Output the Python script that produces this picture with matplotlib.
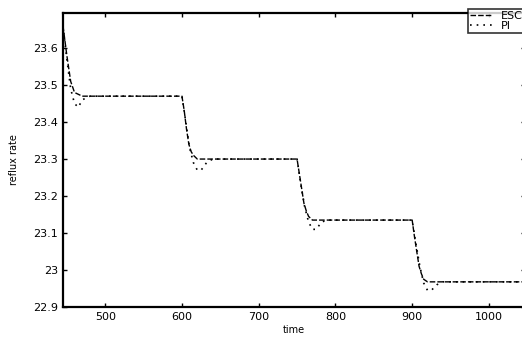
import matplotlib
matplotlib.use("Agg")
import matplotlib.pyplot as plt

esc_t = [445, 450, 455, 460, 470, 600, 603, 606, 609, 612, 615, 620,
         750, 753, 756, 759, 762, 765, 770,
         900, 903, 906, 909, 912, 915, 920, 1047]
esc_v = [23.66, 23.58, 23.51, 23.48, 23.47, 23.47, 23.43, 23.38, 23.34, 23.32, 23.31, 23.30,
         23.30, 23.26, 23.22, 23.18, 23.16, 23.145, 23.135,
         23.135, 23.09, 23.05, 23.01, 22.99, 22.975, 22.968, 22.968]

pi_t = [445, 450, 455, 460, 465, 470, 480,
        600, 605, 610, 615, 620, 625, 632, 640,
        750, 755, 760, 765, 770, 775, 782, 790,
        900, 905, 910, 915, 920, 925, 932, 940, 1047]
pi_v = [23.66, 23.57, 23.49, 23.45, 23.44, 23.46, 23.47,
        23.47, 23.40, 23.33, 23.29, 23.27, 23.27, 23.29, 23.30,
        23.30, 23.23, 23.17, 23.13, 23.11, 23.11, 23.13, 23.135,
        23.135, 23.07, 23.01, 22.965, 22.945, 22.945, 22.96, 22.968, 22.968]

y_ticks = [22.9, 23.0, 23.1, 23.2, 23.3, 23.4, 23.5, 23.6]
y_labels = ["22.9", "23", "23.1", "23.2", "23.3", "23.4", "23.5", "23.6"]
x_ticks = [500, 600, 700, 800, 900, 1000]

fig = plt.figure(figsize=(5.22, 3.38), dpi=100)
ax = fig.add_axes([0.1207, 0.0917, 0.885, 0.870])

ax.plot(esc_t, esc_v, color="black", linestyle=(0, (4, 1.5)), linewidth=1.0, label="ESC")
ax.plot(pi_t, pi_v, color="black", linestyle=(0, (1, 3)), linewidth=1.2, label="PI")

ax.set_xlim(445, 1047)
ax.set_ylim(22.9, 23.695)
ax.set_xticks(x_ticks)
ax.set_yticks(y_ticks)
ax.set_yticklabels(y_labels)
ax.tick_params(direction="in", top=True, right=True, labelsize=8, length=3, width=1)
for s in ax.spines.values():
    s.set_linewidth(1.6)

ax.set_xlabel("time", fontsize=7, labelpad=2)
ax.set_ylabel("reflux rate", fontsize=7, labelpad=10)

leg = ax.legend(loc="upper right", bbox_to_anchor=(1.0, 1.015), fontsize=8, frameon=True,
                fancybox=False, edgecolor="black", borderpad=0.2, handlelength=2.0,
                labelspacing=0.0, borderaxespad=0.0)
leg.get_frame().set_linewidth(1.2)

fig.savefig("out.png", dpi=100)
